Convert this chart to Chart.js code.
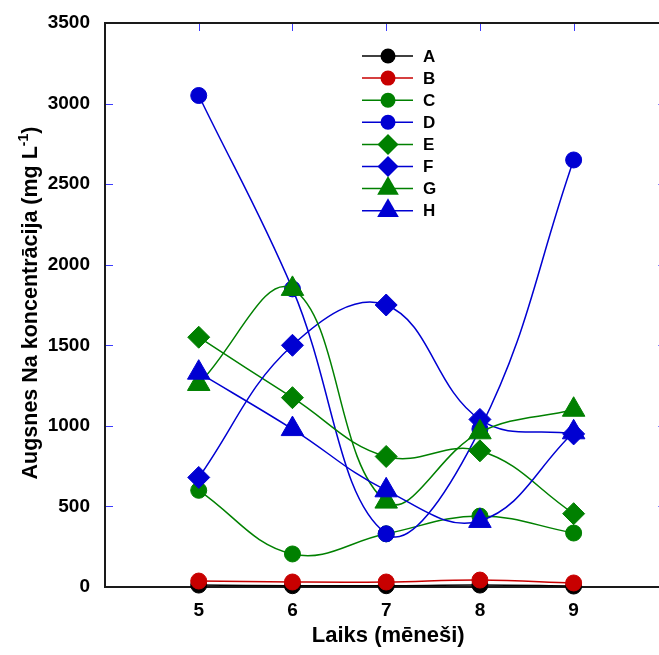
<!DOCTYPE html>
<html>
<head>
<meta charset="utf-8">
<script src="https://cdn.jsdelivr.net/npm/chart.js@4/dist/chart.umd.min.js"></script>
<style>
  html, body { margin: 0; padding: 0; background: #fff; overflow: hidden; }
  canvas { display: block; }
</style>
</head>
<body>
<canvas id="c" width="672" height="655"></canvas>
<script>
// months on the x axis
const months = [5, 6, 7, 8, 9];
const yTicks = [0, 500, 1000, 1500, 2000, 2500, 3000, 3500];

// series values (mg/L)
const seriesA = [12, 8, 8, 12, 6];
const seriesB = [37, 31, 31, 43, 25];
const seriesC = [600, 205, 330, 440, 335];
const seriesD = [3050, 1850, 330, 980, 2650];
const seriesE = [1550, 1175, 810, 845, 455];
const seriesF = [680, 1500, 1750, 1040, 950];
const seriesG = [1260, 1850, 530, 960, 1100];
const seriesH = [1330, 980, 600, 410, 960];

const names = ['A', 'B', 'C', 'D', 'E', 'F', 'G', 'H'];
const values = [seriesA, seriesB, seriesC, seriesD, seriesE, seriesF, seriesG, seriesH];

const BLACK = '#000000', RED = '#c80000', GREEN = '#008000', BLUE = '#0000d2';
const colors = [BLACK, RED, GREEN, BLUE, GREEN, BLUE, GREEN, BLUE];
const styles = ['circle', 'circle', 'circle', 'circle', 'rectRot', 'rectRot', 'triangle', 'triangle'];
const radii = { circle: 8, rectRot: 11, triangle: 13 };
const FONT = '"Liberation Sans", Arial, sans-serif';

const datasets = names.map((n, i) => ({
  label: n,
  data: months.map((m, j) => ({ x: m, y: values[i][j] })),
  borderColor: colors[i],
  backgroundColor: colors[i],
  borderWidth: 1.5,
  pointStyle: styles[i],
  pointRadius: radii[styles[i]],
  pointBorderWidth: 1,
  pointBorderColor: colors[i],
  pointBackgroundColor: colors[i],
  tension: 0.4,
  clip: false,
  order: 8 - i   // later series on top
}));

const TICK_BLUE = '#3c3cff';

// frame + inward ticks under the data, legend and titles on top
const framePlugin = {
  id: 'frame',
  beforeDatasetsDraw(chart) {
    const { ctx, chartArea: a, scales: { x, y } } = chart;
    const right = x.getPixelForValue(10);   // right axis sits just past the crop
    ctx.save();
    ctx.strokeStyle = TICK_BLUE;
    ctx.lineWidth = 1;
    ctx.beginPath();
    yTicks.slice(1, -1).forEach(v => {
      const py = Math.round(y.getPixelForValue(v)) + 0.5;
      ctx.moveTo(a.left, py); ctx.lineTo(a.left + 8, py);
      ctx.moveTo(right, py); ctx.lineTo(right - 9, py);
    });
    months.forEach(m => {
      const px = Math.round(x.getPixelForValue(m)) + 0.5;
      ctx.moveTo(px, a.top); ctx.lineTo(px, a.top + 8);
      ctx.moveTo(px, a.bottom); ctx.lineTo(px, a.bottom - 8);
    });
    ctx.stroke();
    ctx.strokeStyle = '#1a1a1a';
    ctx.lineWidth = 2;
    ctx.strokeRect(a.left, a.top, right - a.left, a.bottom - a.top);
    ctx.restore();
  },
  afterDraw(chart) {
    const { ctx, chartArea: a, scales: { x } } = chart;
    ctx.save();
    // legend
    const lx0 = 362, lx1 = 413, mx = 388, tx = 423;
    names.forEach((n, i) => {
      const ly = 56 + i * 22.1;
      ctx.strokeStyle = colors[i];
      ctx.lineWidth = 1.5;
      ctx.beginPath(); ctx.moveTo(lx0, ly); ctx.lineTo(lx1, ly); ctx.stroke();
      ctx.fillStyle = colors[i];
      Chart.helpers.drawPoint(ctx, { pointStyle: styles[i], radius: radii[styles[i]] - 0.5, rotation: 0, borderWidth: 0 }, mx, ly);
      ctx.fillStyle = '#000';
      ctx.font = 'bold 17px ' + FONT;
      ctx.textBaseline = 'middle';
      ctx.textAlign = 'left';
      ctx.fillText(n, tx, ly + 1);
    });
    // x title, centred on the full 4..10 axis
    ctx.font = 'bold 22px ' + FONT;
    ctx.textAlign = 'center';
    ctx.textBaseline = 'alphabetic';
    ctx.fillText('Laiks (mēneši)', (a.left + x.getPixelForValue(10)) / 2 + 2, 642);
    // y title with superscript
    ctx.translate(30, 303);
    ctx.rotate(-Math.PI / 2);
    const big = 'bold 21.5px ' + FONT;
    const small = 'bold 14px ' + FONT;
    const p1 = 'Augsnes Na koncentrācija (mg L', p2 = '-1', p3 = ')';
    ctx.font = big; const w1 = ctx.measureText(p1).width, w3 = ctx.measureText(p3).width;
    ctx.font = small; const w2 = ctx.measureText(p2).width;
    let sx = -(w1 + w2 + w3) / 2;
    ctx.textAlign = 'left';
    ctx.font = big; ctx.fillText(p1, sx, 7); sx += w1;
    ctx.font = small; ctx.fillText(p2, sx, -2); sx += w2;
    ctx.font = big; ctx.fillText(p3, sx, 7);
    ctx.restore();
  }
};

new Chart(document.getElementById('c'), {
  type: 'line',
  data: { datasets },
  options: {
    responsive: false,
    animation: false,
    layout: { padding: { top: 23, right: 4, left: 0, bottom: 0 } },
    plugins: { legend: { display: false }, tooltip: { enabled: false } },
    scales: {
      x: {
        type: 'linear',
        min: 4, max: 9.9,
        grid: { display: false, drawTicks: false },
        border: { display: false },
        afterBuildTicks: s => { s.ticks = months.map(v => ({ value: v })); },
        ticks: {
          padding: 12,
          color: '#000',
          font: { family: FONT, size: 19, weight: 'bold' },
          callback: v => String(v)
        },
        afterFit: s => { s.height = 68; s.paddingLeft = 0; s.paddingRight = 0; }
      },
      y: {
        min: 0, max: 3500,
        grid: { display: false, drawTicks: false },
        border: { display: false },
        afterBuildTicks: s => { s.ticks = yTicks.map(v => ({ value: v })); },
        ticks: {
          padding: 15,
          color: '#000',
          font: { family: FONT, size: 19, weight: 'bold' },
          callback: v => String(v)
        },
        afterFit: s => { s.width = 105; s.paddingTop = 0; s.paddingBottom = 0; }
      }
    }
  },
  plugins: [framePlugin]
});
</script>
</body>
</html>
